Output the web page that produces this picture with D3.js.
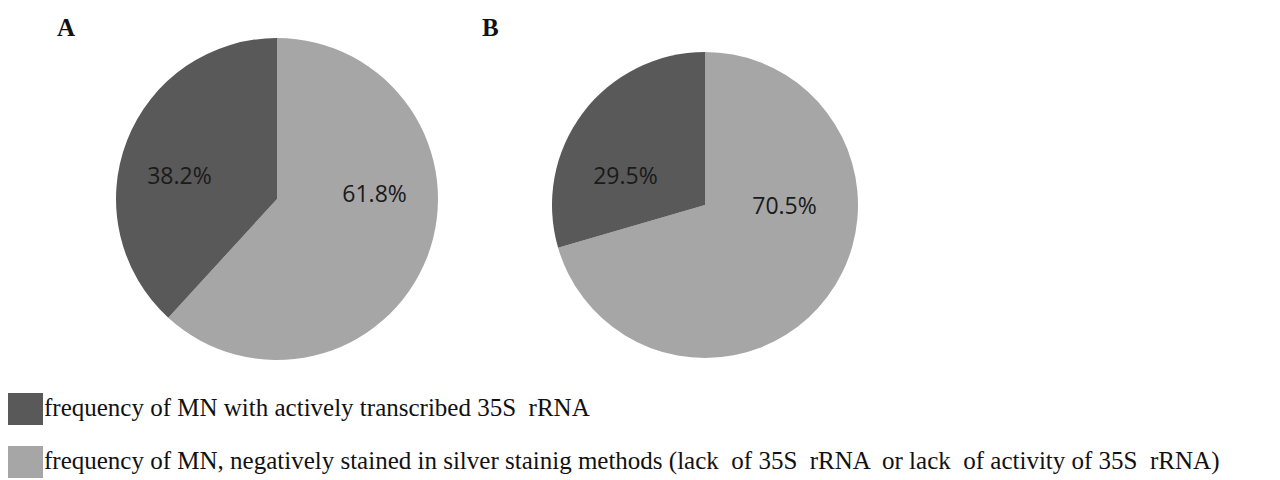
<!DOCTYPE html>
<html>
<head>
<meta charset="utf-8">
<script src="https://cdn.jsdelivr.net/npm/d3@7"></script>
<style>
  body { margin: 0; background: #fff; }
  svg { display: block; }
</style>
</head>
<body>
<svg id="chart" width="1280" height="480"></svg>
<script>
// data
const panels = ['A', 'B'];
const categories = ['active', 'negative'];
const valuesA = [38.2, 61.8];
const valuesB = [29.5, 70.5];
const legendLabels = [
  'frequency of MN with actively transcribed 35S  rRNA',
  'frequency of MN, negatively stained in silver stainig methods (lack  of 35S  rRNA  or lack  of activity of 35S  rRNA)'
];

const svg = d3.select('#chart');
const color = d3.scaleOrdinal().domain(categories).range(['#595959', '#a6a6a6']);

// layout of the two pies
const pieLayout = [
  { cx: 277, cy: 199, r: 161, titleX: 57, values: valuesA },
  { cx: 705, cy: 205, r: 153, titleX: 482, values: valuesB }
];

const pie = d3.pie().sort(null).value(d => d.value);

panels.forEach((p, i) => {
  const L = pieLayout[i];
  const data = categories.map((c, j) => ({ cat: c, value: L.values[j] }));
  // light slice clockwise from 12 o'clock, dark one closes the circle
  const arcs = pie([data[1], data[0]]);
  const arc = d3.arc().innerRadius(0).outerRadius(L.r);
  const g = svg.append('g').attr('transform', `translate(${L.cx},${L.cy})`);

  g.selectAll('path')
    .data(arcs)
    .enter()
    .append('path')
    .attr('d', arc)
    .attr('fill', d => color(d.data.cat));

  // labels - roughly where excel put them (flattened toward the middle)
  const k = 0.65 * L.r;
  g.selectAll('text')
    .data(arcs)
    .enter()
    .append('text')
    .attr('x', d => {
      const a = (d.startAngle + d.endAngle) / 2;
      return k * Math.sin(a);
    })
    .attr('y', d => {
      const a = (d.startAngle + d.endAngle) / 2;
      return -15 - 0.25 * k * Math.cos(a);
    })
    .attr('text-anchor', 'middle')
    .attr('dominant-baseline', 'central')
    .attr('font-family', '"Open Sans", sans-serif')
    .attr('font-size', 23)
    .attr('fill', '#1a1a1a')
    .text(d => d.data.value.toFixed(1) + '%');

  svg.append('text')
    .attr('x', L.titleX)
    .attr('y', 36)
    .attr('font-family', '"Liberation Serif", serif')
    .attr('font-weight', 'bold')
    .attr('font-size', 25)
    .attr('fill', '#111')
    .text(p);
});

// legend
const legend = svg.append('g');
const ly = d3.scalePoint().domain(categories).range([409, 462]);
const items = legend.selectAll('g')
  .data(categories)
  .enter()
  .append('g')
  .attr('transform', d => `translate(8,${ly(d)})`);

items.append('rect')
  .attr('x', 0).attr('y', -16)
  .attr('width', 35).attr('height', 32)
  .attr('fill', d => color(d));

items.append('text')
  .attr('x', 36)
  .attr('y', 7)
  .style('white-space', 'pre')
  .attr('font-family', '"Liberation Serif", serif')
  .attr('font-size', 25)
  .attr('fill', '#111')
  .text((d, i) => legendLabels[i]);
</script>
</body>
</html>
